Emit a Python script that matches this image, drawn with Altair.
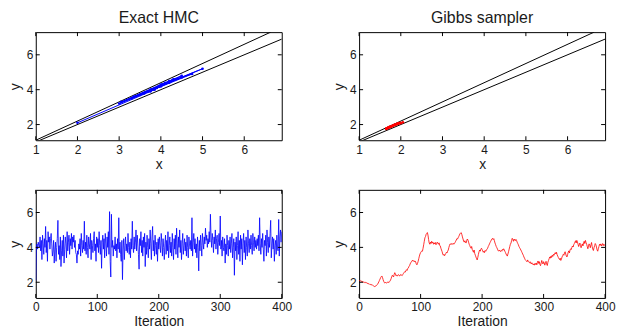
import altair as alt
import pandas as pd

# ---------------- data ----------------
hmc_trace = [
    2.1, 4.0, 4.2, 3.9, 4.3, 4.1, 4.0, 4.6, 3.8, 4.4, 3.3, 4.7, 4.2, 3.6, 4.5, 4.0, 5.2, 3.7, 4.4, 3.2,
    4.9, 4.3, 4.6, 3.9, 4.5, 4.8, 4.2, 3.5, 3.8, 4.4, 3.1, 3.9, 4.3, 3.2, 4.0, 4.5, 5.55, 3.6, 4.1, 3.3,
    4.6, 2.9, 3.8, 4.4, 3.5, 4.7, 3.1, 3.9, 4.6, 4.2, 3.4, 4.9, 3.8, 4.3, 4.7, 3.6, 4.5, 4.1, 4.8, 3.9,
    4.6, 4.3, 4.7, 4.0, 4.4, 3.7, 3.6, 3.1, 3.8, 3.6, 4.2, 3.9, 4.5, 3.5, 4.8, 4.1, 3.7, 4.4, 3.9, 5.5,
    3.8, 4.3, 3.6, 4.7, 4.0, 3.4, 4.6, 4.2, 3.9, 4.8, 3.3, 4.4, 4.1, 3.7, 4.5, 4.9, 3.8, 4.2, 3.2, 4.6,
    4.0, 4.5, 3.7, 4.9, 4.1, 3.6, 4.4, 2.8, 4.3, 4.7, 3.9, 4.5, 3.4, 4.8, 4.2, 3.5, 4.6, 4.0, 4.9, 3.6,
    6.05, 3.2, 2.3, 5.9, 4.0, 4.4, 3.5, 4.1, 3.9, 4.6, 3.8, 4.2, 3.4, 4.5, 3.9, 5.7, 3.7, 4.3, 3.6, 3.2,
    4.4, 2.15, 3.9, 4.5, 3.3, 4.1, 4.6, 3.8, 4.2, 3.7, 4.8, 4.0, 3.6, 4.3, 3.4, 4.5, 3.9, 5.5, 4.1, 3.7,
    4.6, 3.9, 4.3, 5.0, 3.8, 4.7, 4.2, 3.6, 2.75, 4.5, 4.1, 4.9, 3.7, 4.4, 3.5, 4.6, 4.0, 4.8, 2.9, 4.3,
    3.6, 4.7, 4.0, 3.4, 4.5, 3.9, 5.0, 4.2, 3.3, 4.6, 5.2, 3.8, 4.4, 3.5, 4.7, 4.1, 3.6, 4.3, 3.2, 4.5,
    3.9, 4.6, 4.1, 3.7, 4.8, 4.3, 3.5, 4.5, 4.0, 3.3, 4.2, 4.7, 3.6, 4.4, 3.8, 4.9, 3.4, 4.1, 4.6, 3.7,
    4.3, 3.5, 4.8, 4.0, 3.3, 4.5, 3.9, 4.7, 3.6, 5.1, 4.2, 3.4, 4.6, 4.0, 5.0, 3.7, 4.4, 3.3, 4.2, 4.8,
    3.6, 4.1, 4.5, 3.8, 4.3, 3.5, 4.7, 4.0, 3.4, 4.6, 4.2, 3.9, 4.4, 3.8, 5.7, 3.5, 4.3, 4.8, 3.9, 4.5,
    3.7, 4.2, 3.4, 4.6, 4.0, 2.65, 4.4, 3.8, 4.7, 4.1, 3.5, 4.8, 4.3, 3.9, 4.6, 4.2, 5.1, 4.4, 4.7, 4.0,
    4.5, 4.2, 4.9, 4.3, 5.9, 4.6, 4.0, 4.8, 4.4, 3.7, 4.6, 4.2, 5.0, 3.9, 4.5, 4.7, 3.6, 4.3, 4.8, 4.1,
    5.8, 3.9, 4.4, 3.5, 4.6, 4.0, 3.8, 4.5, 3.1, 4.2, 3.6, 4.7, 4.1, 3.5, 4.4, 3.9, 4.6, 3.7, 4.2, 4.8,
    3.4, 4.0, 4.5, 2.4, 4.3, 3.8, 4.6, 3.3, 4.1, 4.9, 3.6, 4.4, 3.2, 4.7, 3.9, 4.5, 3.0, 4.2, 4.8, 3.7,
    4.4, 3.3, 4.6, 4.0, 3.5, 5.0, 4.2, 3.7, 4.5, 3.9, 4.7, 4.1, 3.6, 4.8, 4.3, 3.8, 4.6, 4.0, 4.4, 3.9,
    4.5, 4.1, 4.7, 3.8, 5.7, 4.2, 3.6, 4.5, 4.0, 4.8, 3.9, 3.2, 4.4, 4.1, 4.7, 3.5, 5.0, 4.3, 3.7, 4.6,
    4.0, 4.8, 5.55, 3.4, 4.2, 4.6, 3.9, 4.5, 3.2, 4.1, 4.4, 3.6, 4.7, 4.0, 3.8, 5.6, 3.5, 4.6, 5.0, 4.3,
    4.9,
]

gibbs_trace = [
    2.13, 2.08, 2.10, 2.05, 2.07, 2.02, 2.04, 2.00, 2.03, 1.98, 2.00, 1.96, 1.98, 1.93, 1.95, 1.90, 1.92, 1.88, 1.86, 1.89,
    1.84, 1.87, 1.82, 1.80, 1.78, 1.75, 1.79, 1.77, 1.82, 1.85, 1.88, 1.95, 2.02, 2.10, 2.18, 2.26, 2.32, 2.36, 2.28, 2.15,
    2.05, 1.98, 1.95, 2.00, 1.96, 1.95, 1.99, 2.03, 1.98, 2.02, 2.05, 2.12, 2.20, 2.32, 2.40, 2.35, 2.30, 2.45, 2.55, 2.48,
    2.38, 2.42, 2.35, 2.40, 2.44, 2.38, 2.36, 2.42, 2.45, 2.40, 2.38, 2.44, 2.50, 2.55, 2.60, 2.58, 2.65, 2.72, 2.68, 2.78,
    2.82, 2.90, 2.95, 3.05, 3.12, 3.18, 3.22, 3.27, 3.20, 3.24, 3.18, 3.22, 3.16, 3.05, 3.00, 3.08, 3.20, 3.35, 3.50, 3.62,
    3.70, 3.75, 3.80, 3.78, 3.95, 4.15, 4.35, 4.55, 4.62, 4.75, 4.80, 4.85, 4.70, 4.45, 4.25, 4.18, 4.30, 4.22, 4.35, 4.25,
    4.30, 4.18, 4.26, 4.20, 4.28, 4.15, 4.22, 4.30, 4.24, 4.18, 4.26, 4.12, 4.08, 3.95, 3.85, 3.75, 3.62, 3.55, 3.60, 3.52,
    3.58, 3.65, 3.72, 3.68, 3.78, 3.85, 4.00, 4.12, 4.20, 4.18, 4.22, 4.16, 4.20, 4.24, 4.18, 4.22, 4.28, 4.35, 4.42, 4.50,
    4.48, 4.55, 4.62, 4.70, 4.78, 4.82, 4.85, 4.75, 4.60, 4.48, 4.35, 4.30, 4.38, 4.28, 4.25, 4.40, 4.48, 4.42, 4.30, 4.18,
    4.10, 4.00, 3.95, 4.05, 3.88, 3.80, 3.72, 3.85, 3.65, 3.55, 3.45, 3.35, 3.28, 3.42, 3.60, 3.75, 3.85, 3.78, 3.90, 3.95,
    3.88, 3.80, 3.72, 3.78, 3.70, 3.82, 3.78, 3.85, 3.90, 3.95, 4.05, 4.12, 4.20, 4.28, 4.35, 4.42, 4.48, 4.52, 4.45, 4.50,
    4.38, 4.25, 4.15, 4.05, 3.98, 3.90, 3.82, 3.78, 3.85, 3.80, 3.76, 3.82, 3.78, 3.88, 3.84, 3.92, 3.86, 3.78, 3.70, 3.62,
    3.55, 3.50, 3.62, 3.75, 3.90, 4.05, 4.18, 4.25, 4.40, 4.52, 4.45, 4.35, 4.48, 4.42, 4.38, 4.46, 4.40, 4.30, 4.22, 4.15,
    4.05, 3.98, 3.92, 3.85, 3.78, 3.70, 3.62, 3.55, 3.45, 3.38, 3.30, 3.25, 3.22, 3.18, 3.28, 3.20, 3.15, 3.12, 3.18, 3.10,
    3.05, 3.12, 3.08, 3.00, 3.05, 2.98, 3.08, 3.02, 3.10, 3.00, 3.15, 3.22, 3.08, 3.18, 3.02, 2.95, 3.10, 3.25, 3.12, 3.05,
    3.18, 3.10, 2.98, 3.12, 3.20, 3.05, 2.96, 3.15, 3.25, 3.35, 3.45, 3.38, 3.50, 3.42, 3.55, 3.48, 3.60, 3.55, 3.65, 3.70,
    3.62, 3.72, 3.58, 3.50, 3.42, 3.35, 3.30, 3.38, 3.25, 3.32, 3.45, 3.52, 3.60, 3.55, 3.68, 3.75, 3.62, 3.50, 3.45, 3.58,
    3.72, 3.80, 3.68, 3.85, 3.92, 3.88, 4.00, 4.08, 4.02, 4.15, 4.22, 4.30, 4.38, 4.25, 4.40, 4.32, 4.18, 4.05, 4.15, 4.25,
    4.10, 3.98, 4.12, 4.20, 4.08, 4.25, 4.35, 4.22, 4.40, 4.28, 4.18, 4.05, 3.92, 4.08, 4.20, 4.12, 3.98, 4.15, 4.28, 4.05,
    3.90, 3.82, 3.98, 4.10, 4.22, 4.15, 4.02, 3.85, 3.78, 3.92, 4.05, 4.18, 4.12, 4.20, 4.08, 4.15, 4.22, 4.10, 4.18, 4.12,
    4.10,
]

# x coordinates of the first 30 samples shown in the scatter panels
hmc_x = [2.0, 3.85, 4.0, 3.75, 4.05, 3.9, 3.8, 4.3, 3.6, 4.1, 3.05, 4.5, 3.95, 3.35, 4.25,
         3.75, 5.0, 3.5, 4.2, 3.0, 4.75, 4.0, 4.35, 3.7, 4.2, 4.5, 4.0, 3.3, 3.6, 4.15]
gibbs_x = [2.05, 2.0, 1.98, 1.95, 1.93, 1.90, 1.92, 1.88, 1.90, 1.86, 1.87, 1.83, 1.85, 1.80, 1.82,
           1.78, 1.80, 1.76, 1.74, 1.77, 1.72, 1.74, 1.70, 1.68, 1.66, 1.65, 1.68, 1.66, 1.70, 1.72]

# constraint lines (end points)
lower_line_x = [1.0, 6.9]
lower_line_y = [1.0, 6.9]
upper_line_x = [1.0, 6.636]
upper_line_y = [1.1, 7.3]

panel_titles = ["Exact HMC", "Gibbs sampler"]

x_ticks = [1, 2, 3, 4, 5, 6]
y_ticks = [2, 4, 6]
iter_ticks = [0, 100, 200, 300, 400]

x_domain = [1, 6.9]
y_domain = [1.1, 7.3]
iter_domain = [0, 400]

# ---------------- style ----------------
W, H = 248, 109
FONT = "Liberation Sans"
TXT = "#1a1a1a"
TL = 4  # inner tick length


def make_axis(values, title, orient):
    common = dict(values=values, title=title, ticks=False, tickSize=0, domain=False, grid=False,
                  labelFont=FONT, titleFont=FONT, labelFontSize=12, titleFontSize=14,
                  labelColor=TXT, titleColor=TXT, titleFontWeight="normal", labelFlush=False)
    if orient == "x":
        return alt.Axis(labelPadding=4, titlePadding=2, **common)
    return alt.Axis(labelPadding=3, titlePadding=4, minExtent=9, maxExtent=9, **common)


def panel(layers_data, xdom, xticks, xtitle, title=None):
    xs = alt.Scale(domain=xdom, nice=False, zero=False)
    ys = alt.Scale(domain=y_domain, nice=False, zero=False)
    xa = make_axis(xticks, xtitle, "x")
    ya = make_axis(y_ticks, "y", "y")

    layers = []
    for kind, df, color in layers_data:
        base = alt.Chart(df)
        enc = dict(x=alt.X("x:Q", scale=xs, axis=xa), y=alt.Y("y:Q", scale=ys, axis=ya),
                   order=alt.Order("i:Q"))
        if kind == "line":
            layers.append(base.mark_line(color=color, strokeWidth=1, clip=True).encode(**enc))
        elif kind == "thin":
            layers.append(base.mark_line(color=color, strokeWidth=0.8, clip=True).encode(**enc))
        elif kind == "points":
            layers.append(base.mark_point(color=color, filled=True, size=7, opacity=1, clip=True)
                          .encode(x=enc["x"], y=enc["y"]))

    xt = pd.DataFrame({"t": xticks})
    yt = pd.DataFrame({"t": y_ticks})
    tx = alt.X("t:Q", scale=xs, axis=xa)
    ty = alt.Y("t:Q", scale=ys, axis=ya)
    layers.append(alt.Chart(xt).mark_rule(color="black", strokeWidth=1)
                  .encode(x=tx, y=alt.value(0), y2=alt.value(TL)))
    layers.append(alt.Chart(xt).mark_rule(color="black", strokeWidth=1)
                  .encode(x=tx, y=alt.value(H - TL), y2=alt.value(H)))
    layers.append(alt.Chart(yt).mark_rule(color="black", strokeWidth=1)
                  .encode(y=ty, x=alt.value(0), x2=alt.value(TL)))
    layers.append(alt.Chart(yt).mark_rule(color="black", strokeWidth=1)
                  .encode(y=ty, x=alt.value(W - TL), x2=alt.value(W)))

    if title:
        layers.append(
            alt.Chart(pd.DataFrame({"label": [title]}))
            .mark_text(font=FONT, fontSize=16, color=TXT, baseline="alphabetic", align="center")
            .encode(text="label:N", x=alt.value(W / 2), y=alt.value(-9))
        )
    return alt.layer(*layers).properties(width=W, height=H)


n_scatter = len(hmc_x)
lines_df_lower = pd.DataFrame({"x": lower_line_x, "y": lower_line_y, "i": range(len(lower_line_x))})
lines_df_upper = pd.DataFrame({"x": upper_line_x, "y": upper_line_y, "i": range(len(upper_line_x))})

hmc_sc = pd.DataFrame({"x": hmc_x, "y": hmc_trace[:n_scatter], "i": range(n_scatter)})
gibbs_sc = pd.DataFrame({"x": gibbs_x, "y": gibbs_trace[:len(gibbs_x)], "i": range(len(gibbs_x))})

hmc_tr = pd.DataFrame({"x": range(len(hmc_trace)), "y": hmc_trace, "i": range(len(hmc_trace))})
gibbs_tr = pd.DataFrame({"x": range(len(gibbs_trace)), "y": gibbs_trace, "i": range(len(gibbs_trace))})

BLUE = "#0000ff"
RED = "#ff0000"

p1 = panel([("line", lines_df_lower, "black"), ("line", lines_df_upper, "black"),
            ("line", hmc_sc, BLUE), ("points", hmc_sc, BLUE)],
           x_domain, x_ticks, "x", panel_titles[0])
p2 = panel([("line", lines_df_lower, "black"), ("line", lines_df_upper, "black"),
            ("line", gibbs_sc, RED), ("points", gibbs_sc, RED)],
           x_domain, x_ticks, "x", panel_titles[1])
p3 = panel([("thin", hmc_tr, BLUE)], iter_domain, iter_ticks, "Iteration")
p4 = panel([("thin", gibbs_tr, RED)], iter_domain, iter_ticks, "Iteration")

chart = alt.concat(p1, p2, p3, p4, columns=2).properties(
    bounds="flush",
    spacing={"row": 50, "column": 78},
    padding={"left": 0, "top": 0, "right": 0, "bottom": 0},
).configure_view(stroke="black", strokeWidth=1)

chart.save("out.html", embed_options={"renderer": "svg", "actions": False})
